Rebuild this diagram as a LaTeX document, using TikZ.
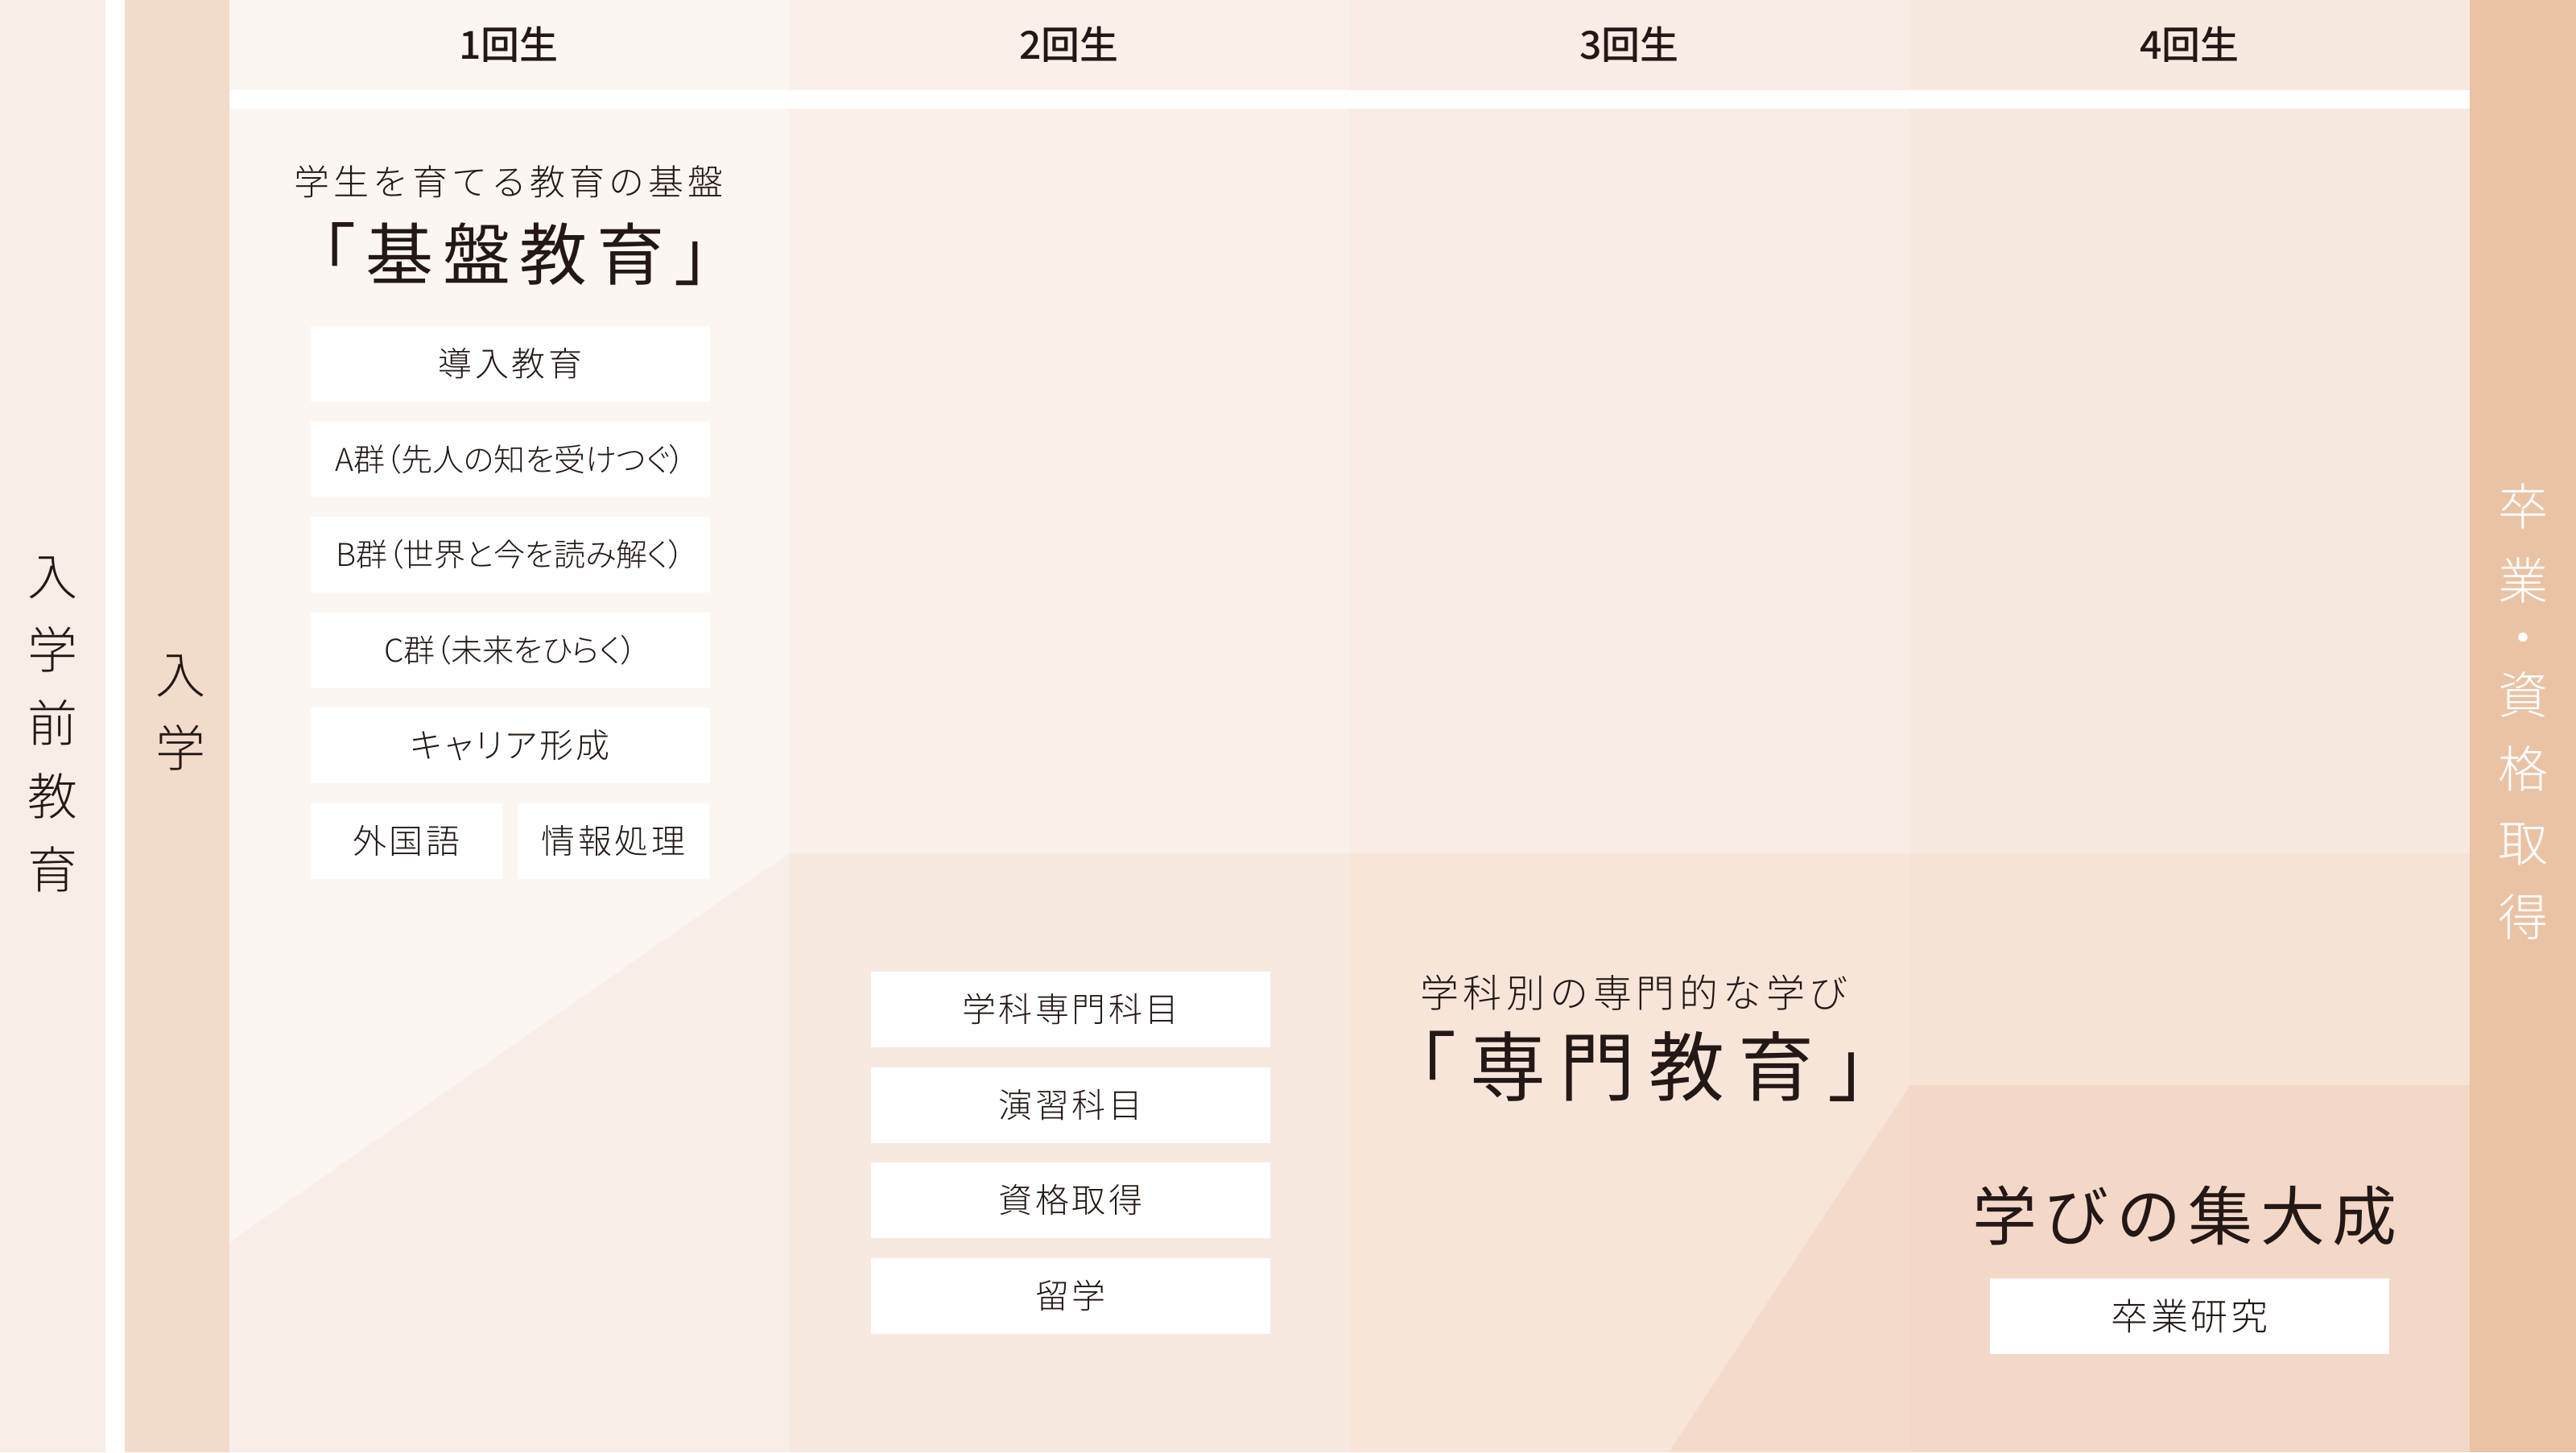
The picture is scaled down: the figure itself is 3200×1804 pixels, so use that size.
\documentclass[tikz,border=0pt]{standalone}
\usepackage{fontspec}
\IfFontExistsTF{Noto Sans CJK JP Light}{%
  \newfontfamily\jpmin{Noto Sans CJK JP Light}}{%
  \newfontfamily\jpmin{Noto Sans CJK JP}}
\IfFontExistsTF{Noto Sans CJK JP Medium}{%
  \newfontfamily\jphd{Noto Sans CJK JP Medium}}{%
  \IfFontExistsTF{Noto Sans CJK JP Bold}{%
    \newfontfamily\jphd{Noto Sans CJK JP Bold}}{%
    \newfontfamily\jphd{Noto Sans CJK JP}}}
\newfontfamily\jpgo{Noto Sans CJK JP}
\usepackage{xcolor}
\definecolor{ink}{HTML}{231815}
\definecolor{prebg}{HTML}{F9EEE6}
\definecolor{entbg}{HTML}{F2DBCA}
\definecolor{gradbg}{HTML}{EAC3A5}
\definecolor{yrone}{HTML}{FCF6F2}
\definecolor{yrtwo}{HTML}{FAF0EA}
\definecolor{yrthree}{HTML}{F9ECE4}
\definecolor{yrfour}{HTML}{F8E9E0}
\definecolor{layer}{HTML}{E8B08A}
\usepackage{tikz}

\begin{document}
\begin{tikzpicture}[x=1pt,y=-1pt,node distance=118.5pt,every node/.style={text=ink,inner sep=0pt}]
  \tikzstyle{head}=[font=\jphd\fontsize{48}{48}\selectfont]
  \tikzstyle{lead}=[font=\jpmin\fontsize{44}{44}\selectfont\addfontfeatures{LetterSpace=11}]
  \tikzstyle{title}=[font=\jpgo\fontsize{84}{84}\selectfont\addfontfeatures{LetterSpace=14}]
  \tikzstyle{cbox}=[fill=white,minimum width=496pt,minimum height=94pt,font=\jpmin\fontsize{42}{42}\selectfont\addfontfeatures{LetterSpace=8}]
  \tikzstyle{gbox}=[cbox,font=\jpmin\fontsize{39}{39}\selectfont\addfontfeatures{RawFeature=+palt}]
  \tikzstyle{hbox}=[cbox,minimum width=238pt]
  \tikzstyle{vtext}=[align=center,font=\jpmin\fontsize{62}{91}\selectfont]

  % background bands
  \useasboundingbox (0,0) rectangle (3200,1804);
  \fill[white] (0,0) rectangle (3200,1804);
  \fill[prebg] (0,0) rectangle (131,1804);
  \fill[entbg] (155,0) rectangle (285,1804);
  \fill[yrone] (285,0) rectangle (980,1804);
  \fill[yrtwo] (980,0) rectangle (1676,1804);
  \fill[yrthree] (1676,0) rectangle (2372,1804);
  \fill[yrfour] (2372,0) rectangle (3068,1804);
  \fill[gradbg] (3068,0) rectangle (3200,1804);
  \fill[white] (285,112) rectangle (3068,135);
  \fill[layer,fill opacity=.1] (285,1543) -- (980,1060) -- (3068,1060) -- (3068,1804) -- (285,1804) -- cycle;
  \fill[layer,fill opacity=.2] (2073,1804) -- (2373,1348) -- (3068,1348) -- (3068,1804) -- cycle;

  % side labels
  \node[vtext] (P) at (65,900) {入\\学\\前\\教\\育};
  \node[vtext] (E) at (224,885) {入\\学};
  \node[vtext,text=white,font=\jpmin\fontsize{62}{92}\selectfont] (G) at (3134,884) {卒\\業\\[-21pt]・\\[-21pt]資\\格\\取\\得};

  % years
  \node[head] (Y1) at (632,55) {1回生};
  \node[head] (Y2) at (1328,55) {2回生};
  \node[head] (Y3) at (2024,55) {3回生};
  \node[head] (Y4) at (2720,55) {4回生};

  % basic education
  \node[lead]  (KL) at (632,226) {学生を育てる教育の基盤};
  \node[title] (KT) at (640,316) {「基盤教育」};
  \node[cbox] (A) at (634,452) {導入教育};
  \node[gbox] (B) [below of=A] {A群（先人の知を受けつぐ）};
  \node[gbox] (C) [below of=B] {B群（世界と今を読み解く）};
  \node[gbox] (D) [below of=C] {C群（未来をひらく）};
  \node[cbox,font=\jpmin\fontsize{42}{42}\selectfont\addfontfeatures{RawFeature=+palt,LetterSpace=8}] (F) [below of=D] {キャリア形成};
  \node[hbox] (H) [below of=F,xshift=-129pt] {外国語};
  \node[hbox] (I) [below of=F,xshift=128pt] {情報処理};

  % specialised education
  \node[lead,font=\jpmin\fontsize{48}{48}\selectfont\addfontfeatures{LetterSpace=12}] (SL) at (2030,1233) {学科別の専門的な学び};
  \node[title,font=\jpgo\fontsize{94}{94}\selectfont\addfontfeatures{LetterSpace=18}] (ST) at (2040,1325) {「専門教育」};
  \node[cbox] (S1) at (1330,1254) {学科専門科目};
  \node[cbox] (S2) [below of=S1] {演習科目};
  \node[cbox] (S3) [below of=S2] {資格取得};
  \node[cbox] (S4) [below of=S3] {留学};

  % graduation
  \node[title,font=\jpgo\fontsize{80}{80}\selectfont\addfontfeatures{LetterSpace=12}] (RT) at (2714,1510) {学びの集大成};
  \node[cbox,font=\jpmin\fontsize{46}{46}\selectfont\addfontfeatures{LetterSpace=8}] (R) at (2720,1635) {卒業研究};
\end{tikzpicture}
\end{document}
